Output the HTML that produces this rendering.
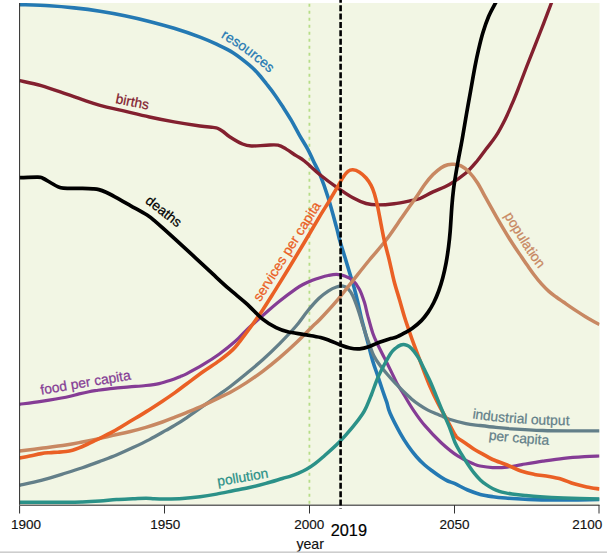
<!DOCTYPE html>
<html>
<head>
<meta charset="utf-8">
<title>World3 scenario</title>
<style>
html,body{margin:0;padding:0;background:#ffffff;}
body{width:607px;height:553px;overflow:hidden;position:relative;font-family:"Liberation Sans",sans-serif;}
svg{position:absolute;left:0;top:0;display:block;}
text{font-family:"Liberation Sans",sans-serif;}
.curves path{fill:none;stroke-linecap:butt;stroke-linejoin:round;}
.lbl{font-size:13.8px;stroke-width:0.25px;}
.tick{font-size:13.5px;fill:#111;stroke:#111;stroke-width:0.15px;}
</style>
</head>
<body>
<svg width="607" height="553" viewBox="0 0 607 553">
  <defs>
    <clipPath id="plot"><rect x="19.5" y="3" width="580" height="502"/></clipPath>
  </defs>
  <rect x="0" y="0" width="607" height="553" fill="#ffffff"/>
  <rect x="19.5" y="3" width="580" height="502" fill="#f2f6e4"/>
  <!-- green dashed -->
  <line x1="309.4" y1="3.8" x2="309.4" y2="505" stroke="#b7dd88" stroke-width="1.8" stroke-dasharray="3 4"/>
  <g class="curves" clip-path="url(#plot)">
<path d="M19.50,4.60 C24.48,4.80 40.30,5.25 49.40,5.80 C58.50,6.35 65.67,7.00 74.10,7.90 C82.53,8.80 91.57,9.90 100.00,11.20 C108.43,12.50 116.47,14.00 124.70,15.70 C132.93,17.40 141.17,19.30 149.40,21.40 C157.63,23.50 165.67,25.68 174.10,28.30 C182.53,30.92 192.93,34.45 200.00,37.10 C207.07,39.75 211.00,41.60 216.50,44.20 C222.00,46.80 227.52,49.22 233.00,52.70 C238.48,56.18 245.23,61.63 249.40,65.10 C253.57,68.57 255.15,70.35 258.00,73.50 C260.85,76.65 263.72,80.47 266.50,84.00 C269.28,87.53 271.95,90.85 274.70,94.70 C277.45,98.55 280.25,102.85 283.00,107.10 C285.75,111.35 288.47,115.53 291.20,120.20 C293.93,124.87 296.65,130.28 299.40,135.10 C302.15,139.92 305.37,144.78 307.70,149.10 C310.03,153.42 311.35,156.73 313.40,161.00 C315.45,165.27 317.53,168.57 320.00,174.70 C322.47,180.83 325.45,189.02 328.20,197.80 C330.95,206.58 334.57,220.28 336.50,227.40 C338.43,234.52 338.43,235.65 339.80,240.50 C341.17,245.35 343.05,251.08 344.70,256.50 C346.35,261.92 348.05,267.52 349.70,273.00 C351.35,278.48 353.23,284.47 354.60,289.40 C355.97,294.33 356.80,297.93 357.90,302.60 C359.00,307.27 360.10,312.83 361.20,317.40 C362.30,321.97 363.28,325.40 364.50,330.00 C365.72,334.60 367.12,339.80 368.50,345.00 C369.88,350.20 371.25,356.03 372.80,361.20 C374.35,366.37 376.15,371.07 377.80,376.00 C379.45,380.93 381.20,386.40 382.70,390.80 C384.20,395.20 385.58,398.70 386.80,402.40 C388.02,406.10 387.80,407.93 390.00,413.00 C392.20,418.07 396.97,427.30 400.00,432.80 C403.03,438.30 405.45,442.02 408.20,446.00 C410.95,449.98 413.75,453.53 416.50,456.70 C419.25,459.87 421.95,462.53 424.70,465.00 C427.45,467.47 430.25,469.45 433.00,471.50 C435.75,473.55 438.73,475.72 441.20,477.30 C443.67,478.88 445.50,479.93 447.80,481.00 C450.10,482.07 451.68,482.20 455.00,483.70 C458.32,485.20 463.48,488.22 467.70,490.00 C471.92,491.78 476.08,493.28 480.30,494.40 C484.52,495.52 488.78,496.10 493.00,496.70 C497.22,497.30 500.27,497.58 505.60,498.00 C510.93,498.42 517.07,498.87 525.00,499.20 C532.93,499.53 540.78,499.95 553.20,500.00 C565.62,500.05 591.78,499.58 599.50,499.50" stroke="#2479b3" stroke-width="3.6"/>
<path d="M19.50,80.60 C23.12,81.45 33.47,83.48 41.20,85.70 C48.93,87.92 59.03,91.57 65.90,93.90 C72.77,96.23 76.72,97.80 82.40,99.70 C88.08,101.60 92.95,103.38 100.00,105.30 C107.05,107.22 116.47,109.25 124.70,111.20 C132.93,113.15 141.17,115.22 149.40,117.00 C157.63,118.78 165.67,120.40 174.10,121.90 C182.53,123.40 193.52,125.08 200.00,126.00 C206.48,126.92 210.08,127.02 213.00,127.40 C215.92,127.78 215.83,127.62 217.50,128.30 C219.17,128.98 220.98,130.10 223.00,131.50 C225.02,132.90 226.35,134.62 229.60,136.70 C232.85,138.78 238.87,142.45 242.50,144.00 C246.13,145.55 247.40,145.80 251.40,146.00 C255.40,146.20 262.07,145.33 266.50,145.20 C270.93,145.07 274.72,144.55 278.00,145.20 C281.28,145.85 283.18,147.35 286.20,149.10 C289.22,150.85 293.07,153.72 296.10,155.70 C299.13,157.68 300.42,157.83 304.40,161.00 C308.38,164.17 314.65,170.35 320.00,174.70 C325.35,179.05 331.02,183.25 336.50,187.10 C341.98,190.95 347.97,195.07 352.90,197.80 C357.83,200.53 361.97,202.32 366.10,203.50 C370.23,204.68 373.03,204.87 377.70,204.90 C382.37,204.93 388.62,204.40 394.10,203.70 C399.58,203.00 406.28,201.57 410.60,200.70 C414.92,199.83 416.27,199.97 420.00,198.50 C423.73,197.03 428.10,194.23 433.00,191.90 C437.90,189.57 443.92,187.65 449.40,184.50 C454.88,181.35 461.28,176.92 465.90,173.00 C470.52,169.08 473.73,164.98 477.10,161.00 C480.47,157.02 482.95,153.28 486.10,149.10 C489.25,144.92 492.83,140.85 496.00,135.90 C499.17,130.95 502.35,124.90 505.10,119.40 C507.85,113.90 510.27,108.13 512.50,102.90 C514.73,97.67 516.13,94.07 518.50,88.00 C520.87,81.93 523.13,75.67 526.70,66.50 C530.27,57.33 535.78,43.58 539.90,33.00 C544.02,22.42 549.28,8.50 551.40,3.00 C553.52,-2.50 552.40,0.50 552.60,0.00" stroke="#83202f" stroke-width="3.4"/>
<path d="M19.50,404.30 C23.12,403.80 33.47,402.48 41.20,401.30 C48.93,400.12 59.58,398.43 65.90,397.20 C72.22,395.97 75.25,394.82 79.10,393.90 C82.95,392.98 86.10,392.27 89.00,391.70 C91.90,391.13 92.50,391.07 96.50,390.50 C100.50,389.93 107.52,388.90 113.00,388.30 C118.48,387.70 123.92,387.37 129.40,386.90 C134.88,386.43 140.95,386.05 145.90,385.50 C150.85,384.95 154.98,384.47 159.10,383.60 C163.22,382.73 167.12,381.45 170.60,380.30 C174.08,379.15 177.35,377.78 180.00,376.70 C182.65,375.62 182.67,375.80 186.50,373.80 C190.33,371.80 197.52,368.00 203.00,364.70 C208.48,361.40 213.92,357.98 219.40,354.00 C224.88,350.02 231.38,344.78 235.90,340.80 C240.42,336.82 241.98,334.35 246.50,330.10 C251.02,325.85 257.52,320.10 263.00,315.30 C268.48,310.50 273.92,305.70 279.40,301.30 C284.88,296.90 291.80,291.78 295.90,288.90 C300.00,286.02 301.25,285.43 304.00,284.00 C306.75,282.57 309.73,281.35 312.40,280.30 C315.07,279.25 317.37,278.50 320.00,277.70 C322.63,276.90 325.45,276.05 328.20,275.50 C330.95,274.95 333.75,274.33 336.50,274.40 C339.25,274.47 341.97,274.90 344.70,275.90 C347.43,276.90 350.43,278.15 352.90,280.40 C355.37,282.65 357.57,285.70 359.50,289.40 C361.43,293.10 363.12,298.20 364.50,302.60 C365.88,307.00 366.42,310.70 367.80,315.80 C369.18,320.90 371.13,328.38 372.80,333.20 C374.47,338.02 375.87,340.58 377.80,344.70 C379.73,348.82 382.20,353.50 384.40,357.90 C386.60,362.30 388.82,366.70 391.00,371.10 C393.18,375.50 395.32,380.32 397.50,384.30 C399.68,388.28 401.48,390.75 404.10,395.00 C406.72,399.25 409.77,404.73 413.20,409.80 C416.63,414.87 420.03,419.92 424.70,425.40 C429.37,430.88 435.70,437.62 441.20,442.70 C446.70,447.78 452.22,452.33 457.70,455.90 C463.18,459.47 470.38,462.42 474.10,464.10 C477.82,465.78 476.92,465.42 480.00,466.00 C483.08,466.58 488.07,467.42 492.60,467.60 C497.13,467.78 502.33,467.60 507.20,467.10 C512.07,466.60 515.87,465.58 521.80,464.60 C527.73,463.62 535.82,462.25 542.80,461.20 C549.78,460.15 556.73,459.07 563.70,458.30 C570.67,457.53 578.63,456.98 584.60,456.60 C590.57,456.22 597.02,456.10 599.50,456.00" stroke="#853c95" stroke-width="3.2"/>
<path d="M19.50,485.30 C23.12,484.48 33.47,482.45 41.20,480.40 C48.93,478.35 59.03,475.12 65.90,473.00 C72.77,470.88 76.72,469.65 82.40,467.70 C88.08,465.75 94.32,463.42 100.00,461.30 C105.68,459.18 111.00,457.28 116.50,455.00 C122.00,452.72 127.52,450.17 133.00,447.60 C138.48,445.03 143.92,442.47 149.40,439.60 C154.88,436.73 161.63,432.80 165.90,430.40 C170.17,428.00 171.57,427.30 175.00,425.20 C178.43,423.10 181.83,420.97 186.50,417.80 C191.17,414.63 197.52,410.12 203.00,406.20 C208.48,402.28 214.90,397.55 219.40,394.30 C223.90,391.05 225.48,390.17 230.00,386.70 C234.52,383.23 241.00,378.03 246.50,373.50 C252.00,368.97 257.52,364.43 263.00,359.50 C268.48,354.57 273.92,349.43 279.40,343.90 C284.88,338.37 291.23,331.75 295.90,326.30 C300.57,320.85 303.55,315.87 307.40,311.20 C311.25,306.53 315.53,301.65 319.00,298.30 C322.47,294.95 325.28,292.98 328.20,291.10 C331.12,289.22 334.02,287.83 336.50,287.00 C338.98,286.17 341.18,285.83 343.10,286.10 C345.02,286.37 346.37,286.95 348.00,288.60 C349.63,290.25 351.25,292.57 352.90,296.00 C354.55,299.43 356.38,304.80 357.90,309.20 C359.42,313.60 360.75,318.40 362.00,322.40 C363.25,326.40 364.15,329.48 365.40,333.20 C366.65,336.92 368.12,341.00 369.50,344.70 C370.88,348.40 372.05,352.10 373.70,355.40 C375.35,358.70 377.07,361.27 379.40,364.50 C381.73,367.73 385.10,371.73 387.70,374.80 C390.30,377.87 392.42,380.18 395.00,382.90 C397.58,385.62 400.45,388.43 403.20,391.10 C405.95,393.77 408.75,396.57 411.50,398.90 C414.25,401.23 416.97,403.23 419.70,405.10 C422.43,406.97 425.15,408.65 427.90,410.10 C430.65,411.55 434.00,412.85 436.20,413.80 C438.40,414.75 438.90,414.90 441.10,415.80 C443.30,416.70 445.27,417.90 449.40,419.20 C453.53,420.50 460.80,422.55 465.90,423.60 C471.00,424.65 474.98,424.87 480.00,425.50 C485.02,426.13 490.77,426.85 496.00,427.40 C501.23,427.95 503.60,428.28 511.40,428.80 C519.20,429.32 532.35,430.15 542.80,430.50 C553.25,430.85 564.65,430.83 574.10,430.90 C583.55,430.97 595.27,430.90 599.50,430.90" stroke="#637f89" stroke-width="3.3"/>
<path d="M19.50,451.00 C23.12,450.55 33.47,449.30 41.20,448.30 C48.93,447.30 59.03,446.05 65.90,445.00 C72.77,443.95 77.30,442.98 82.40,442.00 C87.50,441.02 91.40,440.20 96.50,439.10 C101.60,438.00 107.52,436.62 113.00,435.40 C118.48,434.18 123.92,433.13 129.40,431.80 C134.88,430.47 140.40,429.03 145.90,427.40 C151.40,425.77 157.55,423.70 162.40,422.00 C167.25,420.30 170.98,418.77 175.00,417.20 C179.02,415.63 181.83,414.53 186.50,412.60 C191.17,410.67 197.52,408.10 203.00,405.60 C208.48,403.10 214.90,399.78 219.40,397.60 C223.90,395.42 225.48,395.00 230.00,392.50 C234.52,390.00 241.00,386.17 246.50,382.60 C252.00,379.03 257.52,375.22 263.00,371.10 C268.48,366.98 273.92,362.58 279.40,357.90 C284.88,353.22 290.40,348.23 295.90,343.00 C301.40,337.77 308.38,330.45 312.40,326.50 C316.42,322.55 315.98,323.52 320.00,319.30 C324.02,315.08 331.02,307.65 336.50,301.20 C341.98,294.75 347.42,287.47 352.90,280.60 C358.38,273.73 363.90,266.72 369.40,260.00 C374.90,253.28 380.40,247.52 385.90,240.30 C391.40,233.08 398.68,222.00 402.40,216.70 C406.12,211.40 405.85,211.82 408.20,208.50 C410.55,205.18 413.75,200.80 416.50,196.80 C419.25,192.80 421.95,188.20 424.70,184.50 C427.45,180.80 430.25,177.40 433.00,174.60 C435.75,171.80 438.73,169.35 441.20,167.70 C443.67,166.05 445.75,165.28 447.80,164.70 C449.85,164.12 451.30,164.00 453.50,164.20 C455.70,164.40 458.38,164.58 461.00,165.90 C463.62,167.22 466.47,169.28 469.20,172.10 C471.93,174.92 474.65,178.53 477.40,182.80 C480.15,187.07 483.60,193.93 485.70,197.70 C487.80,201.47 488.23,202.25 490.00,205.40 C491.77,208.55 494.18,212.90 496.30,216.60 C498.42,220.30 500.58,224.03 502.70,227.60 C504.82,231.17 506.90,234.63 509.00,238.00 C511.10,241.37 513.20,244.63 515.30,247.80 C517.40,250.97 519.57,254.03 521.60,257.00 C523.63,259.97 525.37,262.57 527.50,265.60 C529.63,268.63 532.03,272.10 534.40,275.20 C536.77,278.30 539.28,281.50 541.70,284.20 C544.12,286.90 546.48,289.27 548.90,291.40 C551.32,293.53 553.78,295.23 556.20,297.00 C558.62,298.77 560.98,300.32 563.40,302.00 C565.82,303.68 568.28,305.45 570.70,307.10 C573.12,308.75 575.50,310.33 577.90,311.90 C580.30,313.47 582.68,315.02 585.10,316.50 C587.52,317.98 590.00,319.47 592.40,320.80 C594.80,322.13 598.32,323.88 599.50,324.50" stroke="#c88862" stroke-width="3.5"/>
<path d="M19.50,458.10 C21.20,457.75 26.08,456.75 29.70,456.00 C33.32,455.25 37.92,454.15 41.20,453.60 C44.48,453.05 46.65,452.93 49.40,452.70 C52.15,452.47 54.95,452.40 57.70,452.20 C60.45,452.00 63.43,451.83 65.90,451.50 C68.37,451.17 70.30,450.80 72.50,450.20 C74.70,449.60 76.90,448.77 79.10,447.90 C81.30,447.03 83.50,446.02 85.70,445.00 C87.90,443.98 90.50,442.65 92.30,441.80 C94.10,440.95 93.05,441.58 96.50,439.90 C99.95,438.22 107.52,434.72 113.00,431.70 C118.48,428.68 123.92,425.10 129.40,421.80 C134.88,418.50 140.40,415.33 145.90,411.90 C151.40,408.47 157.55,404.42 162.40,401.20 C167.25,397.98 170.98,395.47 175.00,392.60 C179.02,389.73 181.83,387.48 186.50,384.00 C191.17,380.52 197.52,375.60 203.00,371.70 C208.48,367.80 214.47,364.23 219.40,360.60 C224.33,356.97 229.18,353.12 232.60,349.90 C236.02,346.68 236.77,345.28 239.90,341.30 C243.03,337.32 247.55,331.30 251.40,326.00 C255.25,320.70 259.15,315.27 263.00,309.50 C266.85,303.73 270.38,297.98 274.50,291.40 C278.62,284.82 282.78,278.07 287.70,270.00 C292.62,261.93 298.62,252.02 304.00,243.00 C309.38,233.98 315.97,222.62 320.00,215.90 C324.03,209.18 325.45,207.23 328.20,202.70 C330.95,198.17 334.02,192.95 336.50,188.70 C338.98,184.45 341.18,180.08 343.10,177.20 C345.02,174.32 346.37,172.63 348.00,171.40 C349.63,170.17 350.98,169.67 352.90,169.80 C354.82,169.93 357.30,170.83 359.50,172.20 C361.70,173.57 364.17,175.80 366.10,178.00 C368.03,180.20 369.72,182.78 371.10,185.40 C372.48,188.02 373.30,190.13 374.40,193.70 C375.50,197.27 376.60,201.73 377.70,206.80 C378.80,211.87 379.90,218.48 381.00,224.10 C382.10,229.72 382.93,234.55 384.30,240.50 C385.67,246.45 387.57,253.02 389.20,259.80 C390.83,266.58 392.37,274.50 394.10,281.20 C395.83,287.90 397.87,294.03 399.60,300.00 C401.33,305.97 402.93,311.92 404.50,317.00 C406.07,322.08 407.42,325.88 409.00,330.50 C410.58,335.12 412.33,340.13 414.00,344.70 C415.67,349.27 417.35,353.50 419.00,357.90 C420.65,362.30 422.07,366.33 423.90,371.10 C425.73,375.87 427.67,381.15 430.00,386.50 C432.33,391.85 434.93,397.40 437.90,403.20 C440.87,409.00 445.20,416.50 447.80,421.30 C450.40,426.10 452.20,429.63 453.50,432.00 C454.80,434.37 454.92,434.52 455.60,435.50 C456.28,436.48 455.88,436.57 457.60,437.90 C459.32,439.23 463.15,441.60 465.90,443.50 C468.65,445.40 471.35,447.58 474.10,449.30 C476.85,451.02 479.32,452.10 482.40,453.80 C485.48,455.50 488.47,457.63 492.60,459.50 C496.73,461.37 502.33,463.03 507.20,465.00 C512.07,466.97 517.27,469.73 521.80,471.30 C526.33,472.87 529.87,473.53 534.40,474.40 C538.93,475.27 544.47,475.70 549.00,476.50 C553.53,477.30 557.42,477.98 561.60,479.20 C565.78,480.42 569.92,482.52 574.10,483.80 C578.28,485.08 582.47,486.03 586.70,486.90 C590.93,487.77 597.37,488.65 599.50,489.00" stroke="#ea6025" stroke-width="3.6"/>
<path d="M19.50,502.30 C27.23,502.30 55.42,502.35 65.90,502.30 C76.38,502.25 76.72,502.22 82.40,502.00 C88.08,501.78 94.32,501.40 100.00,501.00 C105.68,500.60 111.00,499.97 116.50,499.60 C122.00,499.23 128.07,499.03 133.00,498.80 C137.93,498.57 142.53,498.20 146.10,498.20 C149.67,498.20 151.10,498.67 154.40,498.80 C157.70,498.93 161.23,499.05 165.90,499.00 C170.57,498.95 176.72,498.88 182.40,498.50 C188.08,498.12 194.32,497.43 200.00,496.70 C205.68,495.97 211.00,495.08 216.50,494.10 C222.00,493.12 227.52,491.90 233.00,490.80 C238.48,489.70 243.92,488.73 249.40,487.50 C254.88,486.27 260.40,484.90 265.90,483.40 C271.40,481.90 278.38,479.68 282.40,478.50 C286.42,477.32 287.40,477.17 290.00,476.30 C292.60,475.43 295.25,474.47 298.00,473.30 C300.75,472.13 303.67,470.92 306.50,469.30 C309.33,467.68 312.25,465.65 315.00,463.60 C317.75,461.55 318.93,460.60 323.00,457.00 C327.07,453.40 334.47,446.97 339.40,442.00 C344.33,437.03 348.75,431.87 352.60,427.20 C356.45,422.53 360.10,417.62 362.50,414.00 C364.90,410.38 365.53,408.67 367.00,405.50 C368.47,402.33 369.50,399.63 371.30,395.00 C373.10,390.37 375.62,382.78 377.80,377.70 C379.98,372.62 382.20,368.62 384.40,364.50 C386.60,360.38 389.08,355.75 391.00,353.00 C392.92,350.25 394.27,349.33 395.90,348.00 C397.53,346.67 399.28,345.55 400.80,345.00 C402.32,344.45 403.62,344.47 405.00,344.70 C406.38,344.93 407.60,345.30 409.10,346.40 C410.60,347.50 412.35,349.25 414.00,351.30 C415.65,353.35 417.35,355.82 419.00,358.70 C420.65,361.58 422.07,364.88 423.90,368.60 C425.73,372.32 428.35,377.43 430.00,381.00 C431.65,384.57 431.93,385.48 433.80,390.00 C435.67,394.52 438.60,401.92 441.20,408.10 C443.80,414.28 447.10,421.37 449.40,427.10 C451.70,432.83 453.02,438.03 455.00,442.50 C456.98,446.97 459.18,450.32 461.30,453.90 C463.42,457.48 465.58,460.83 467.70,464.00 C469.82,467.17 471.90,470.25 474.00,472.90 C476.10,475.55 478.20,477.90 480.30,479.90 C482.40,481.90 484.48,483.43 486.60,484.90 C488.72,486.37 490.88,487.63 493.00,488.70 C495.12,489.77 497.20,490.60 499.30,491.30 C501.40,492.00 503.48,492.45 505.60,492.90 C507.72,493.35 508.77,493.57 512.00,494.00 C515.23,494.43 520.33,495.03 525.00,495.50 C529.67,495.97 533.55,496.38 540.00,496.80 C546.45,497.22 553.78,497.62 563.70,498.00 C573.62,498.38 593.53,498.92 599.50,499.10" stroke="#2b9188" stroke-width="3.5"/>
<path d="M19.50,177.70 C22.57,177.62 34.02,177.10 37.90,177.20 C41.78,177.30 40.60,177.33 42.80,178.30 C45.00,179.27 48.62,181.62 51.10,183.00 C53.58,184.38 55.65,185.73 57.70,186.60 C59.75,187.47 59.28,187.90 63.40,188.20 C67.52,188.50 77.47,188.30 82.40,188.40 C87.33,188.50 90.25,188.60 93.00,188.80 C95.75,189.00 96.73,189.02 98.90,189.60 C101.07,190.18 103.33,191.08 106.00,192.30 C108.67,193.52 110.77,194.65 114.90,196.90 C119.03,199.15 125.50,202.82 130.80,205.80 C136.10,208.78 142.58,212.17 146.70,214.80 C150.82,217.43 152.52,219.12 155.50,221.60 C158.48,224.08 160.52,226.03 164.60,229.70 C168.68,233.37 174.68,238.75 180.00,243.60 C185.32,248.45 191.00,253.70 196.50,258.80 C202.00,263.90 207.52,269.13 213.00,274.20 C218.48,279.27 223.82,284.30 229.40,289.20 C234.98,294.10 240.90,298.57 246.50,303.60 C252.10,308.63 258.07,315.38 263.00,319.40 C267.93,323.42 271.98,325.63 276.10,327.70 C280.22,329.77 283.03,330.65 287.70,331.80 C292.37,332.95 298.62,333.65 304.10,334.60 C309.58,335.55 316.28,336.48 320.60,337.50 C324.92,338.52 326.78,339.50 330.00,340.70 C333.22,341.90 336.60,343.48 339.90,344.70 C343.20,345.92 346.50,347.32 349.80,348.00 C353.10,348.68 356.42,349.07 359.70,348.80 C362.98,348.53 366.22,347.50 369.50,346.40 C372.78,345.30 376.10,343.45 379.40,342.20 C382.70,340.95 386.55,339.72 389.30,338.90 C392.05,338.08 393.43,338.25 395.90,337.30 C398.37,336.35 401.35,334.72 404.10,333.20 C406.85,331.68 409.52,330.30 412.40,328.20 C415.28,326.10 418.80,323.23 421.40,320.60 C424.00,317.97 425.93,315.42 428.00,312.40 C430.07,309.38 432.02,306.07 433.80,302.50 C435.58,298.93 437.20,295.12 438.70,291.00 C440.20,286.88 441.57,282.48 442.80,277.80 C444.03,273.12 445.13,268.12 446.10,262.90 C447.07,257.68 447.92,251.82 448.60,246.50 C449.28,241.18 449.65,237.77 450.20,231.00 C450.75,224.23 451.35,212.83 451.90,205.90 C452.45,198.97 452.82,194.88 453.50,189.40 C454.18,183.92 455.23,177.73 456.00,173.00 C456.77,168.27 457.07,166.63 458.10,161.00 C459.13,155.37 460.82,146.95 462.20,139.20 C463.58,131.45 465.00,122.53 466.40,114.50 C467.80,106.47 469.15,99.10 470.60,91.00 C472.05,82.90 473.77,72.83 475.10,65.90 C476.43,58.97 477.32,54.88 478.60,49.40 C479.88,43.92 481.13,38.48 482.80,33.00 C484.47,27.52 486.48,21.50 488.60,16.50 C490.72,11.50 494.05,5.75 495.50,3.00 C496.95,0.25 497.00,0.50 497.30,0.00" stroke="#000000" stroke-width="3.7"/>
  </g>
  <!-- axes -->
  <line x1="19.6" y1="3" x2="19.6" y2="513.5" stroke="#2a2a2a" stroke-width="1"/>
  <line x1="19" y1="505.3" x2="599.5" y2="505.3" stroke="#666" stroke-width="1.5"/>
  <line x1="164.5" y1="505" x2="164.5" y2="513.5" stroke="#333" stroke-width="1"/>
  <line x1="309.5" y1="505" x2="309.5" y2="513.5" stroke="#333" stroke-width="1"/>
  <line x1="454.5" y1="505" x2="454.5" y2="513.5" stroke="#333" stroke-width="1"/>
  <line x1="599" y1="505" x2="599" y2="513.5" stroke="#333" stroke-width="1"/>
  <!-- black dashed 2019 -->
  <line x1="340.6" y1="-3.2" x2="340.6" y2="508.5" stroke="#000" stroke-width="2.6" stroke-dasharray="6 2.38"/>
  <!-- tick labels -->
  <text class="tick" x="26" y="529" text-anchor="middle">1900</text>
  <text class="tick" x="165.3" y="529" text-anchor="middle">1950</text>
  <text class="tick" x="309.3" y="528.9" text-anchor="middle">2000</text>
  <text class="tick" x="454.4" y="529" text-anchor="middle">2050</text>
  <text class="tick" x="587.3" y="529" text-anchor="middle">2100</text>
  <text class="tick" x="310.2" y="548.6" text-anchor="middle" style="font-size:14.2px">year</text>
  <text x="330.7" y="535.5" textLength="36.3" lengthAdjust="spacingAndGlyphs" style="font-size:17.2px;fill:#000;stroke:#000;stroke-width:0.2px">2019</text>
  <!-- curve labels -->
  <defs>
    <path id="pRes" d="M212,32.4 L220.5,37.3 Q247.4,52.85 268.5,72.5 L276,79.5"/>
    <path id="pInd" d="M462.3,416.85 L472.2,418.3 Q516.3,424.7 567.1,425.2 L580,425.3"/>
    <path id="pPer" d="M478.5,438.3 L488.4,439.5 Q518.2,443.1 548.6,444.9 L560,445.6"/>
    <path id="pPop" d="M499,206.5 L504,215.2 Q526.5,254.2 538.7,268.7 L545,276.3"/>
  </defs>
  <text class="lbl" fill="#2479b3" stroke="#2479b3"><textPath href="#pRes" startOffset="9.8">resources</textPath></text>
  <text class="lbl" fill="#83202f" stroke="#83202f" transform="translate(114.9,103) rotate(11.5)">births</text>
  <text class="lbl" fill="#000" stroke="#000" transform="translate(144.6,202.3) rotate(38)">deaths</text>
  <text class="lbl" fill="#ea6025" stroke="#ea6025" transform="translate(260.3,302.3) rotate(-57.8)" textLength="114.5" lengthAdjust="spacingAndGlyphs">services per capita</text>
  <text class="lbl" fill="#c88862" stroke="#c88862"><textPath href="#pPop" startOffset="10">population</textPath></text>
  <text class="lbl" fill="#853c95" stroke="#853c95" transform="translate(41.2,394.7) rotate(-9.6)">food per capita</text>
  <text class="lbl" fill="#2b9188" stroke="#2b9188" transform="translate(218.1,485.9) rotate(-9.4)">pollution</text>
  <text class="lbl" fill="#637f89" stroke="#637f89"><textPath href="#pInd" startOffset="10">industrial output</textPath></text>
  <text class="lbl" fill="#637f89" stroke="#637f89"><textPath href="#pPer" startOffset="10">per capita</textPath></text>
  <!-- bottom border -->
  <rect x="0" y="551.4" width="607" height="1.6" fill="#cdcdcd"/>
</svg>
</body>
</html>
